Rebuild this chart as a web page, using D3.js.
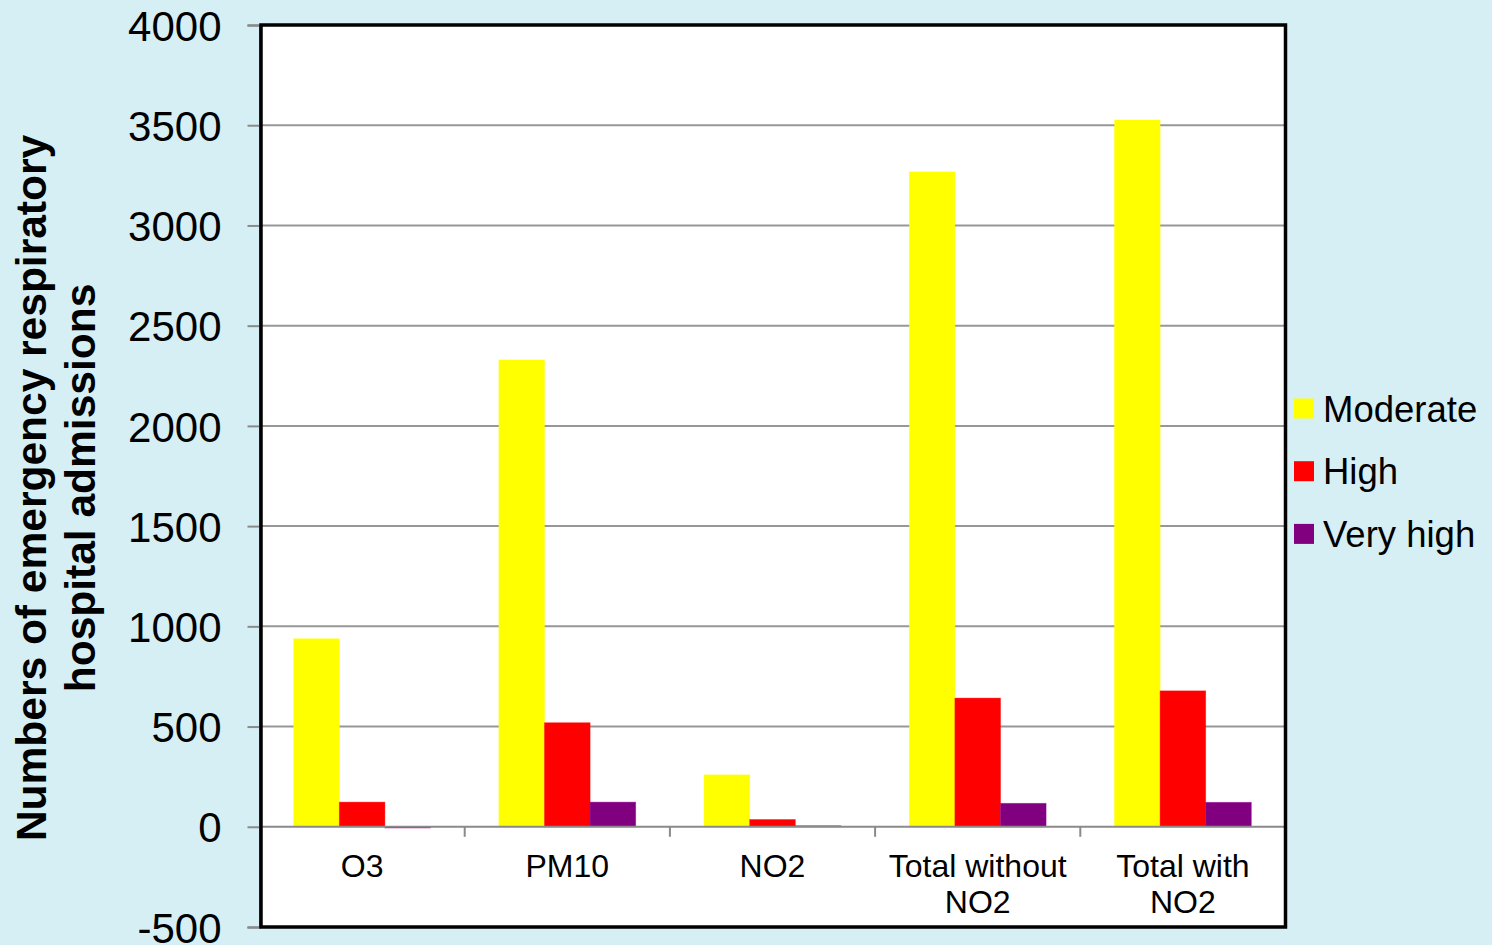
<!DOCTYPE html>
<html>
<head>
<meta charset="utf-8">
<script src="https://cdn.jsdelivr.net/npm/d3@7"></script>
<style>
  html, body { margin: 0; padding: 0; background: #D6EFF5; }
  svg { display: block; }
  text { font-family: "Liberation Sans", Arial, sans-serif; fill: #000; }
</style>
</head>
<body>
<svg id="chart" width="1492" height="945"></svg>
<script>
// Emergency respiratory hospital admissions by pollutant and pollution level
const categories = [["O3"], ["PM10"], ["NO2"], ["Total without", "NO2"], ["Total with", "NO2"]];
const seriesNames = ["Moderate", "High", "Very high"];
const seriesColors = ["#FFFF00", "#FF0000", "#800080"];
const moderate = [938, 2329, 259, 3267, 3526];
const high     = [123, 519, 36, 642, 678];
const veryHigh = [-6, 123, 5, 117, 122];
const yTicks = [-500, 0, 500, 1000, 1500, 2000, 2500, 3000, 3500, 4000];

const series = [moderate, high, veryHigh];
const catKeys = categories.map(c => c.join(" "));

const svg = d3.select("#chart");
const plot = { left: 259.5, right: 1285.5, top: 25, bottom: 927 };

const y = d3.scaleLinear().domain([-500, 4000]).range([plot.bottom, plot.top]);
const x = d3.scaleBand().domain(catKeys).range([plot.left, plot.right]).paddingInner(0).paddingOuter(0);
const xs = d3.scaleBand().domain(seriesNames).range([0, x.bandwidth()]).paddingInner(0).paddingOuter(0.75);

// plot background
svg.append("rect")
  .attr("x", plot.left).attr("y", plot.top)
  .attr("width", plot.right - plot.left).attr("height", plot.bottom - plot.top)
  .attr("fill", "#fff");

// horizontal gridlines
svg.append("g")
  .selectAll("line")
  .data(yTicks.filter(v => v > 0 && v < 4000))
  .join("line")
  .attr("x1", plot.left).attr("x2", plot.right)
  .attr("y1", d => y(d)).attr("y2", d => y(d))
  .attr("stroke", "#979797").attr("stroke-width", 2);

// bars
const groups = svg.append("g")
  .selectAll("g")
  .data(catKeys)
  .join("g")
  .attr("transform", d => `translate(${x(d)},0)`);

groups.selectAll("rect")
  .data((d, i) => series.map((s, j) => ({ name: seriesNames[j], value: s[i], color: seriesColors[j] })))
  .join("rect")
  .attr("x", d => xs(d.name))
  .attr("width", xs.bandwidth())
  .attr("y", d => Math.min(y(d.value), y(0)))
  .attr("height", d => Math.max(1, Math.abs(y(d.value) - y(0))))
  .attr("fill", d => d.color)
  .attr("stroke", d => d3.color(d.color).brighter(0.6))
  .attr("stroke-opacity", 0.5)
  .attr("stroke-width", 0.8);

// category axis along zero
const xAxis = svg.append("g").attr("transform", `translate(0,${y(0)})`);
xAxis.append("line")
  .attr("x1", plot.left).attr("x2", plot.right)
  .attr("stroke", "#8a8a8a").attr("stroke-width", 2);
xAxis.selectAll("line.tick")
  .data(catKeys.slice(1).map(k => x(k)).concat([plot.right]))
  .join("line")
  .attr("class", "tick")
  .attr("x1", d => d).attr("x2", d => d)
  .attr("y1", 0).attr("y2", 10)
  .attr("stroke", "#8a8a8a").attr("stroke-width", 2);

// category labels
const labels = svg.append("g")
  .selectAll("text")
  .data(categories)
  .join("text")
  .attr("x", (d, i) => x(catKeys[i]) + x.bandwidth() / 2)
  .attr("y", 877)
  .attr("text-anchor", "middle")
  .style("font-size", "32px");
labels.selectAll("tspan")
  .data(d => d)
  .join("tspan")
  .attr("x", function () { return this.parentNode.getAttribute("x"); })
  .attr("dy", (d, i) => i === 0 ? 0 : 36)
  .text(d => d);

// value axis
const yAxis = d3.axisLeft(y).tickValues(yTicks).tickSize(12).tickPadding(26).tickFormat(d => String(d));
const ya = svg.append("g").attr("transform", `translate(${plot.left},0)`).call(yAxis);
ya.select(".domain").attr("stroke", "#6e6e6e").attr("stroke-width", 2);
ya.selectAll(".tick line").attr("stroke", "#8a8a8a").attr("stroke-width", 2);
ya.selectAll(".tick text")
  .style("font-size", "42px")
  .style("font-family", '"Liberation Sans", Arial, sans-serif')
  .attr("fill", "#000")
  .attr("dy", "0.36em");

// plot border
svg.append("rect")
  .attr("x", plot.left + 1.5).attr("y", plot.top)
  .attr("width", plot.right - plot.left - 1.5).attr("height", plot.bottom - plot.top)
  .attr("fill", "none").attr("stroke", "#000").attr("stroke-width", 3.5);

// axis title
svg.append("text")
  .attr("transform", "translate(46,488) rotate(-90)")
  .attr("text-anchor", "middle")
  .style("font-size", "42.5px")
  .style("font-weight", "bold")
  .selectAll("tspan")
  .data(["Numbers of emergency respiratory", "hospital admissions"])
  .join("tspan")
  .attr("x", 0)
  .attr("dy", (d, i) => i === 0 ? 0 : 49)
  .text(d => d);

// legend
const legend = svg.append("g")
  .selectAll("g")
  .data(seriesNames)
  .join("g")
  .attr("transform", (d, i) => `translate(1294,${408.5 + i * 62.7})`);
legend.append("rect")
  .attr("x", 0).attr("y", -10)
  .attr("width", 20).attr("height", 20)
  .attr("fill", (d, i) => seriesColors[i]);
legend.append("text")
  .attr("x", 29).attr("y", 0)
  .attr("dy", "0.36em")
  .style("font-size", "36.5px")
  .text(d => d);
</script>
</body>
</html>
